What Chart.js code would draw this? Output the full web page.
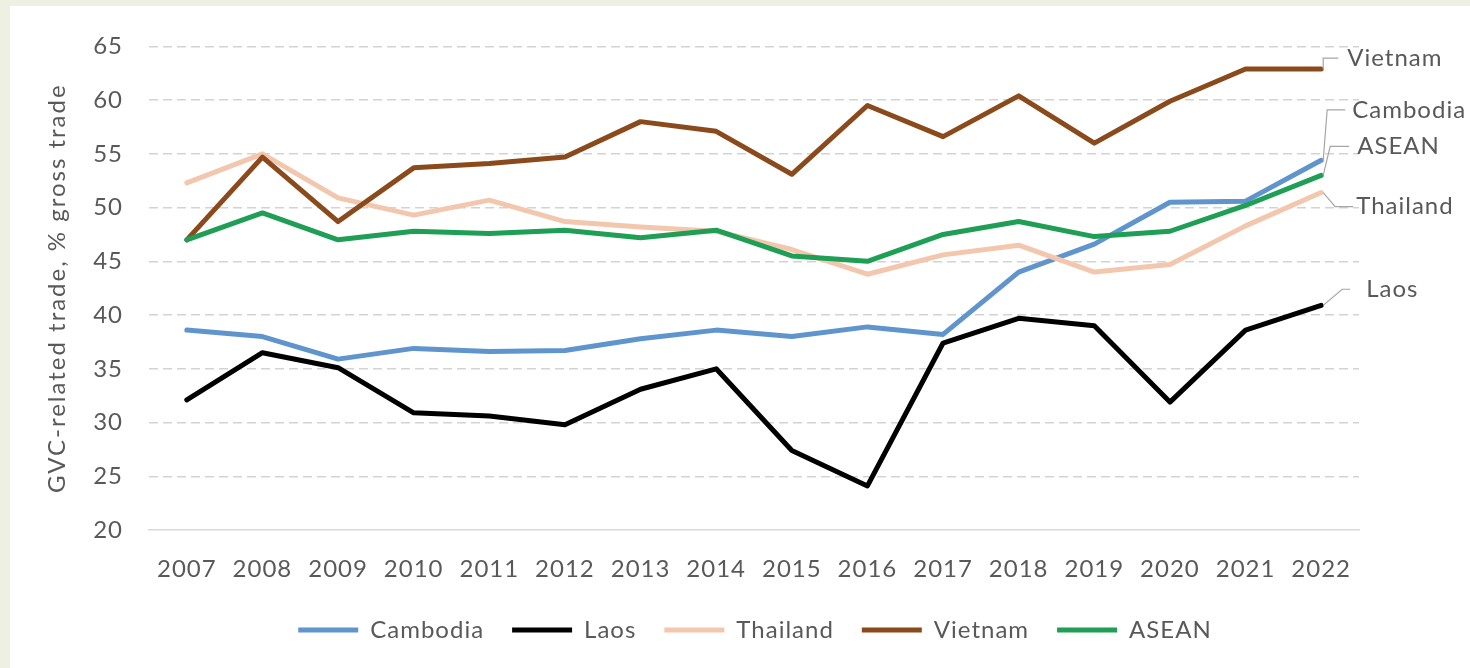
<!DOCTYPE html>
<html>
<head>
<meta charset="utf-8">
<script src="https://cdn.jsdelivr.net/npm/chart.js@4.4.1/dist/chart.umd.min.js"></script>
<style>
  html, body { margin: 0; padding: 0; background: #eef1e2; overflow: hidden; }
  #frame { position: absolute; left: 10px; top: 6px; width: 1460px; height: 662px; background: #ffffff; }
</style>
</head>
<body>
<div id="frame"><canvas id="gvcChart" width="1460" height="662"></canvas></div>
<script>
// Data (GVC-related trade, % of gross trade)
const years = ['2007', '2008', '2009', '2010', '2011', '2012', '2013', '2014',
               '2015', '2016', '2017', '2018', '2019', '2020', '2021', '2022'];
const cambodia = [38.6, 38.0, 35.9, 36.9, 36.6, 36.7, 37.8, 38.6, 38.0, 38.9, 38.2, 44.0, 46.6, 50.5, 50.6, 54.4];
const laos     = [32.1, 36.5, 35.1, 30.9, 30.6, 29.8, 33.1, 35.0, 27.4, 24.1, 37.4, 39.7, 39.0, 31.9, 38.6, 40.9];
const thailand = [52.3, 55.0, 50.9, 49.3, 50.7, 48.7, 48.2, 47.8, 46.1, 43.8, 45.6, 46.5, 44.0, 44.7, 48.3, 51.4];
const vietnam  = [47.0, 54.7, 48.7, 53.7, 54.1, 54.7, 58.0, 57.1, 53.1, 59.5, 56.6, 60.4, 56.0, 59.9, 62.9, 62.9];
const asean    = [47.0, 49.5, 47.0, 47.8, 47.6, 47.9, 47.2, 47.9, 45.5, 45.0, 47.5, 48.7, 47.3, 47.8, 50.2, 53.0];
const yTicks = { min: 20, max: 65, step: 5 };
const yTitle = 'GVC-related trade, % gross trade';

const TEXT = '#595959';
const FONT = { family: 'Lato', size: 24 };

// the reference text is a bit wider than Lato, open it up slightly
const spacing = {
    id: 'spacing',
    beforeLayout(chart) { chart.ctx.letterSpacing = '1px'; },
    beforeDraw(chart) { chart.ctx.letterSpacing = '1px'; }
};

// rotated axis title, drawn here so it can be spaced wider
const axisTitle = {
    id: 'axisTitle',
    afterDraw(chart) {
        const ctx = chart.ctx;
        const area = chart.chartArea;
        ctx.save();
        ctx.letterSpacing = '2px';
        ctx.font = `${FONT.size}px ${FONT.family}`;
        ctx.fillStyle = TEXT;
        ctx.textAlign = 'center';
        ctx.textBaseline = 'middle';
        ctx.translate(47, (area.top + area.bottom) / 2);
        ctx.rotate(-Math.PI / 2);
        ctx.fillText(yTitle, 0, 0);
        ctx.restore();
    }
};

// labels at the right end of each line, with a thin leader
const endLabels = {
    id: 'endLabels',
    afterDatasetsDraw(chart, args, opts) {
        const ctx = chart.ctx;
        const yScale = chart.scales.y;
        ctx.save();
        ctx.font = `${FONT.size}px ${FONT.family}`;
        ctx.fillStyle = TEXT;
        ctx.textBaseline = 'middle';
        ctx.strokeStyle = '#a6a6a6';
        ctx.lineWidth = 1.2;
        chart.data.datasets.forEach((ds, i) => {
            const cfg = opts.items[i];
            const meta = chart.getDatasetMeta(i);
            const pt = meta.data[meta.data.length - 1];
            const ly = yScale.getPixelForValue(cfg.at);
            const ex = pt.x + cfg.elbow;
            ctx.beginPath();
            ctx.moveTo(pt.x + 2, pt.y);
            ctx.lineTo(ex, ly);
            ctx.lineTo(ex + cfg.arm, ly);
            ctx.stroke();
            ctx.fillText(ds.label, ex + cfg.arm + cfg.gap, ly);
        });
        ctx.restore();
    }
};

function series(label, data, color, order) {
    return {
        label: label,
        data: data,
        borderColor: color,
        backgroundColor: color,
        borderWidth: 5,
        borderCapStyle: 'round',
        borderJoinStyle: 'round',
        pointRadius: 0,
        tension: 0,
        order: order
    };
}

new Chart(document.getElementById('gvcChart'), {
    type: 'line',
    data: {
        labels: years,
        datasets: [
            series('Cambodia', cambodia, '#5f95cc', 5),
            series('Laos', laos, '#000000', 4),
            series('Thailand', thailand, '#f3c7ad', 3),
            series('Vietnam', vietnam, '#8b4a1c', 2),
            series('ASEAN', asean, '#1f9e55', 1)
        ]
    },
    plugins: [spacing, endLabels, axisTitle],
    options: {
        responsive: false,
        animation: false,
        layout: { padding: { left: 30, right: 0, top: 35, bottom: 16 } },
        plugins: {
            tooltip: { enabled: false },
            legend: {
                position: 'bottom',
                labels: {
                    usePointStyle: true,
                    pointStyle: 'line',
                    pointStyleWidth: 60,
                    padding: 28,
                    color: TEXT,
                    font: FONT,
                    sort: (a, b) => a.datasetIndex - b.datasetIndex
                }
            },
            endLabels: {
                items: [
                    { at: 59.1, elbow: 6, arm: 18, gap: 7 },   // Cambodia
                    { at: 42.4, elbow: 21, arm: 8, gap: 16 },  // Laos
                    { at: 50.1, elbow: 14, arm: 18, gap: 3 },  // Thailand
                    { at: 63.9, elbow: 2, arm: 15, gap: 9 },   // Vietnam
                    { at: 55.7, elbow: 9, arm: 19, gap: 8 }    // ASEAN
                ]
            }
        },
        scales: {
            x: {
                offset: true,
                grid: { display: false, drawTicks: false, offset: false },
                border: { display: true, color: '#d9d9d9', width: 1.5 },
                ticks: { color: TEXT, font: FONT, padding: 25, maxRotation: 0 },
                afterFit: s => { s.height = 60; }
            },
            y: {
                min: yTicks.min,
                max: yTicks.max,
                ticks: { stepSize: yTicks.step, color: TEXT, font: FONT, padding: 26 },
                grid: {
                    drawTicks: false,
                    lineWidth: 1.5,
                    color: c => (c.tick && c.tick.value === yTicks.min) ? 'rgba(0,0,0,0)' : '#d3d3d3'
                },
                border: { display: false, dash: [9, 5] },
                afterFit: s => { s.width = 109; }
            },
            side: {
                type: 'linear',
                position: 'right',
                grid: { display: false, drawTicks: false },
                border: { display: false },
                ticks: { display: false },
                afterFit: s => { s.width = 111; }
            }
        }
    }
});
</script>
</body>
</html>
